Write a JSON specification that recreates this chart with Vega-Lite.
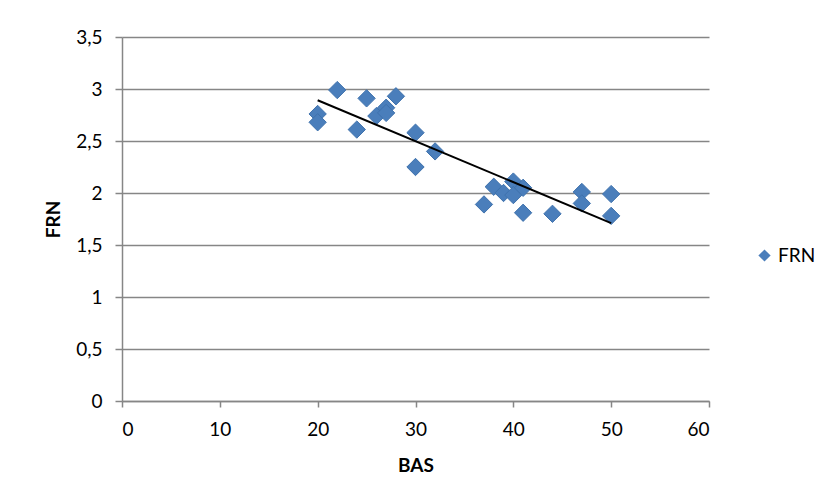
{
  "$schema": "https://vega.github.io/schema/vega-lite/v6.json",
  "autosize": "none",
  "padding": {"left": 122, "top": 37, "right": 117, "bottom": 97},
  "width": 587,
  "height": 364,
  "background": "white",
  "config": {
    "view": {"stroke": null},
    "font": "Lato",
    "axis": {"labelFont": "Lato", "titleFont": "Lato", "labelColor": "black", "titleColor": "black"}
  },
  "data": {
    "values": [
      {"BAS": 20, "FRN": 2.76},
      {"BAS": 20, "FRN": 2.68},
      {"BAS": 22, "FRN": 2.99},
      {"BAS": 24, "FRN": 2.61},
      {"BAS": 25, "FRN": 2.91},
      {"BAS": 26, "FRN": 2.74},
      {"BAS": 27, "FRN": 2.82},
      {"BAS": 27, "FRN": 2.77},
      {"BAS": 28, "FRN": 2.93},
      {"BAS": 30, "FRN": 2.58},
      {"BAS": 30, "FRN": 2.25},
      {"BAS": 32, "FRN": 2.40},
      {"BAS": 37, "FRN": 1.89},
      {"BAS": 38, "FRN": 2.06},
      {"BAS": 39, "FRN": 2.00},
      {"BAS": 40, "FRN": 2.11},
      {"BAS": 40, "FRN": 1.98},
      {"BAS": 41, "FRN": 2.05},
      {"BAS": 41, "FRN": 1.81},
      {"BAS": 44, "FRN": 1.80},
      {"BAS": 47, "FRN": 2.01},
      {"BAS": 47, "FRN": 1.90},
      {"BAS": 50, "FRN": 1.99},
      {"BAS": 50, "FRN": 1.78}
    ]
  },
  "layer": [
    {
      "mark": {"type": "point", "shape": "diamond", "filled": true, "size": 300, "opacity": 1, "stroke": "#3f72ad", "strokeWidth": 1},
      "encoding": {
        "x": {
          "field": "BAS", "type": "quantitative",
          "scale": {"domain": [0, 60], "nice": false},
          "axis": {
            "title": "BAS", "values": [0, 10, 20, 30, 40, 50, 60], "grid": false,
            "domainColor": "#868686", "domainWidth": 1.5, "tickColor": "#868686", "tickWidth": 1.5, "tickSize": 6,
            "labelFontSize": 19, "labelPadding": 13, "titleFontSize": 19, "titleFontWeight": "bold", "titlePadding": 17
          }
        },
        "y": {
          "field": "FRN", "type": "quantitative",
          "scale": {"domain": [0, 3.5], "nice": false},
          "axis": {
            "title": "FRN", "values": [0, 0.5, 1, 1.5, 2, 2.5, 3, 3.5], "grid": true,
            "gridColor": "#868686", "gridWidth": 1.5,
            "domainColor": "#868686", "domainWidth": 1.5, "tickColor": "#868686", "tickWidth": 1.5, "tickSize": 7,
            "labelExpr": "replace(toString(datum.value), '.', ',')",
            "labelFontSize": 19, "labelPadding": 13, "titleFontSize": 19, "titleFontWeight": "bold", "titlePadding": 12
          }
        },
        "color": {
          "datum": "FRN",
          "scale": {"range": ["#4a7ebb"]},
          "legend": {
            "title": null, "orient": "none", "legendX": 633, "legendY": 209,
            "symbolType": "diamond", "symbolSize": 150, "symbolStrokeWidth": 0,
            "labelFont": "Lato", "labelFontSize": 19, "labelColor": "black", "labelOffset": 4, "padding": 0
          }
        }
      }
    },
    {
      "transform": [{"regression": "FRN", "on": "BAS"}],
      "mark": {"type": "line", "color": "black", "strokeWidth": 2},
      "encoding": {
        "x": {"field": "BAS", "type": "quantitative"},
        "y": {"field": "FRN", "type": "quantitative"}
      }
    }
  ]
}
